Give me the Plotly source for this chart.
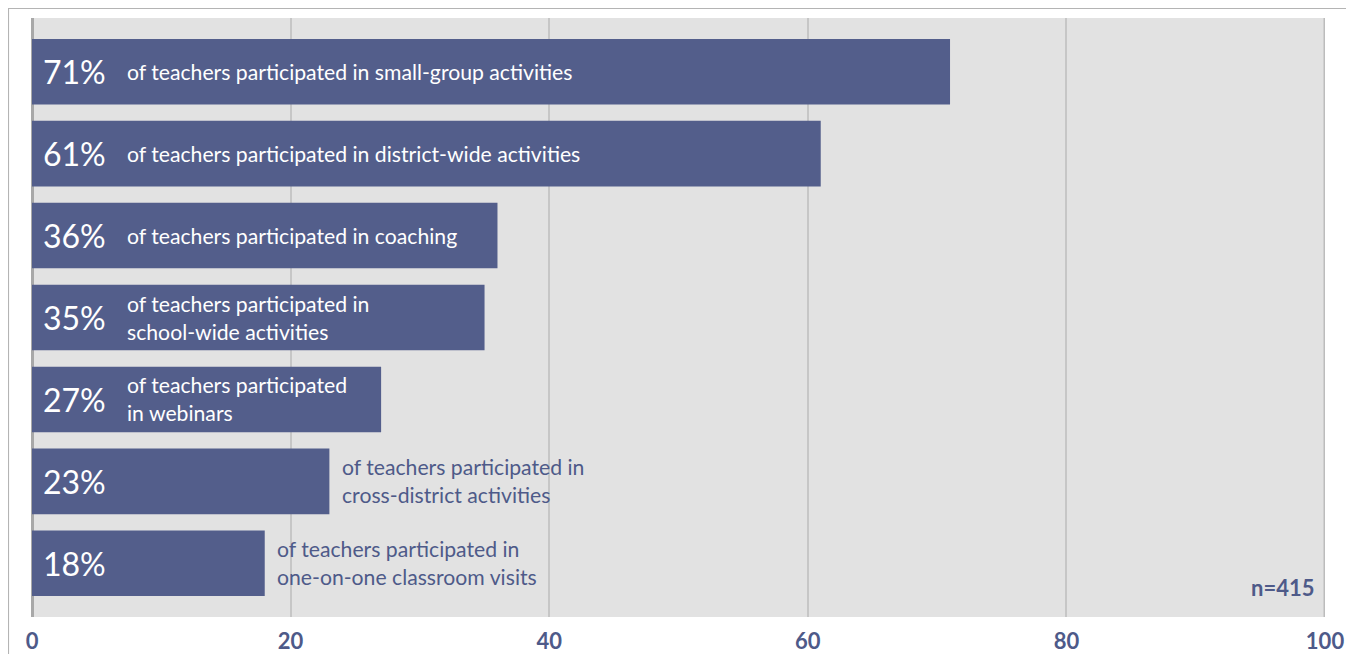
import plotly.graph_objects as go

values = [71, 61, 36, 35, 27, 23, 18]
pct_labels = ["71%", "61%", "36%", "35%", "27%", "23%", "18%"]
descriptions = [
    "of teachers participated in small-group activities",
    "of teachers participated in district-wide activities",
    "of teachers participated in coaching",
    "of teachers participated in<br>school-wide activities",
    "of teachers participated<br>in webinars",
    "of teachers participated in<br>cross-district activities",
    "of teachers participated in<br>one-on-one classroom visits",
]
desc_inside = [True, True, True, True, True, False, False]
x_ticks = [0, 20, 40, 60, 80, 100]
note = "n=415"

BAR = "#535e8b"
TXT = "#4e5a89"
FONT = "Lato"

cats = list(range(len(values)))

fig = go.Figure()
fig.add_trace(go.Bar(
    x=values, y=cats, orientation="h", width=0.8,
    marker=dict(color=BAR, line=dict(width=0)),
    hoverinfo="skip",
))

annotations = []
for i, (v, p, d, inside) in enumerate(zip(values, pct_labels, descriptions, desc_inside)):
    annotations.append(dict(x=0.7, y=i, xref="x", yref="y", text=p, showarrow=False,
                            xanchor="left", yanchor="middle",
                            font=dict(family=FONT, size=32, color="white")))
    annotations.append(dict(x=7.2 if inside else v + 0.8, y=i, xref="x", yref="y", text=d,
                            showarrow=False, xanchor="left", yanchor="middle", align="left",
                            font=dict(family=FONT, size=21.2, color="white" if inside else TXT)))
annotations.append(dict(x=99.3, y=6.29, xref="x", yref="y", text="<b>" + note + "</b>", showarrow=False,
                        xanchor="right", yanchor="middle",
                        font=dict(family=FONT, size=22, color=TXT)))

fig.update_layout(
    width=1346, height=646,
    margin=dict(l=24, r=29, t=10, b=37, autoexpand=False),
    paper_bgcolor="white", plot_bgcolor="#e2e2e2",
    showlegend=False, bargap=0.2,
    annotations=annotations,
    xaxis=dict(range=[0, 100], tickvals=x_ticks, showgrid=True, gridcolor="#c6c6c6", gridwidth=2,
               zeroline=True, zerolinecolor="#a8a8a8", zerolinewidth=3,
               tickfont=dict(family=FONT, size=22, color=TXT, weight="bold"),
               ticks="", ticklabelstandoff=9, fixedrange=True, automargin=False),
    yaxis=dict(range=[6.655, -0.655], showticklabels=False, showgrid=False, zeroline=False,
               ticks="", fixedrange=True, automargin=False),
    shapes=[
        dict(type="rect", xref="paper", yref="paper", x0=-0.0182, x1=1.0193, y0=-0.1, y1=1.0159,
             line=dict(color="#b4b4b4", width=1.2), fillcolor="rgba(0,0,0,0)", layer="below"),
        dict(type="line", xref="x", yref="paper", x0=100, x1=100, y0=0, y1=1,
             line=dict(color="#bcbcbc", width=3)),
    ],
)

fig.write_html("out.html")
